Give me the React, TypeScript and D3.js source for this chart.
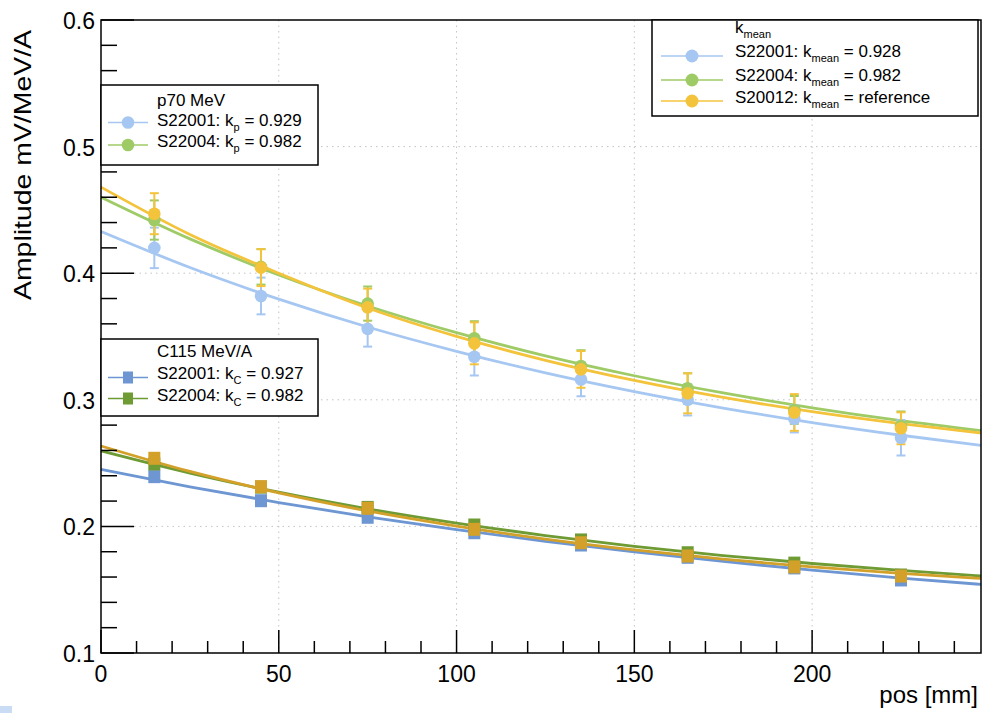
import React from 'react';
import * as d3 from 'd3';

// ---------- data ----------
const positions = [15, 45, 75, 105, 135, 165, 195, 225];

const pS22001 = [0.420, 0.382, 0.356, 0.334, 0.316, 0.300, 0.285, 0.270];
const pS22001Err = [0.016, 0.0145, 0.014, 0.0148, 0.0132, 0.0124, 0.0108, 0.014];
const pS22004 = [0.442, 0.405, 0.376, 0.3486, 0.3267, 0.309, 0.292, 0.2793];
const pS22004Err = [0.0155, 0.014, 0.0135, 0.0135, 0.0125, 0.012, 0.011, 0.0115];
const pS20012 = [0.447, 0.4044, 0.373, 0.3446, 0.324, 0.3051, 0.290, 0.2775];
const pS20012Err = [0.0162, 0.0146, 0.0148, 0.0166, 0.0145, 0.0158, 0.0145, 0.0126];

const cS22001 = [0.2393, 0.2203, 0.2072, 0.195, 0.1853, 0.1756, 0.1672, 0.1577];
const cS22004 = [0.2493, 0.231, 0.215, 0.2011, 0.1893, 0.1792, 0.171, 0.1616];
const cS20012 = [0.2538, 0.2314, 0.2143, 0.1977, 0.1871, 0.1766, 0.168, 0.1608];

const fitPositions = [0, 25, 50, 75, 100, 125, 150, 175, 200, 225, 247.5];
const fitP_S22001 = [0.433, 0.4045, 0.3795, 0.3575, 0.3383, 0.3213, 0.3065, 0.2935, 0.282, 0.272, 0.264];
const fitP_S22004 = [0.460, 0.4271, 0.3986, 0.3741, 0.353, 0.3347, 0.319, 0.3054, 0.2937, 0.2835, 0.2756];
const fitP_S20012 = [0.468, 0.4306, 0.400, 0.3725, 0.3501, 0.3312, 0.3153, 0.3019, 0.2906, 0.2811, 0.2738];
const fitC_S22001 = [0.245, 0.2313, 0.2188, 0.2076, 0.1974, 0.1882, 0.1798, 0.1723, 0.1654, 0.1592, 0.1542];
const fitC_S22004 = [0.2596, 0.2421, 0.227, 0.2139, 0.2026, 0.1928, 0.1843, 0.177, 0.1707, 0.1652, 0.1609];
const fitC_S20012 = [0.2635, 0.2434, 0.2265, 0.2122, 0.2002, 0.19, 0.1814, 0.1741, 0.168, 0.1629, 0.1589];

const xTickValues = [0, 50, 100, 150, 200];
const yTickValues = [0.1, 0.2, 0.3, 0.4, 0.5, 0.6];

// ---------- styles ----------
const W = 984, H = 713;
const L = 101, R = 981, T = 20, B = 653;
const FONT = '"Liberation Sans", Arial, Helvetica, sans-serif';

const COL = {
  p01: '#a6c7f2',
  p04: '#9fcb66',
  p12: '#f4c33c',
  c01: '#6d96d2',
  c04: '#6e9b34',
  c12: '#d3a12a',
};

export default function App() {
  const x = d3.scaleLinear().domain([0, 247.5]).range([L, R]);
  const y = d3.scaleLinear().domain([0.1, 0.6]).range([B, T]);

  const line = d3
    .line<number>()
    .x((_, i) => x(fitPositions[i]))
    .y((d) => y(d))
    .curve(d3.curveMonotoneX);

  const xMinor = d3.range(0, 247.5, 10);
  const yMinor = d3.range(0.1, 0.6001, 0.02);

  const errSeries = (vals: number[], errs: number[], color: string, key: string) => (
    <g key={key}>
      {vals.map((v, i) => {
        const cx = x(positions[i]);
        const y1 = y(v + errs[i]);
        const y2 = y(v - errs[i]);
        return (
          <g key={i} stroke={color} strokeWidth={2}>
            <line x1={cx} x2={cx} y1={y1} y2={y2} />
            <line x1={cx - 4.5} x2={cx + 4.5} y1={y1} y2={y1} />
            <line x1={cx - 4.5} x2={cx + 4.5} y1={y2} y2={y2} />
          </g>
        );
      })}
    </g>
  );

  const circles = (vals: number[], color: string, key: string) => (
    <g key={key} fill={color}>
      {vals.map((v, i) => (
        <circle key={i} cx={x(positions[i])} cy={y(v)} r={6.3} />
      ))}
    </g>
  );

  const squares = (vals: number[], color: string, key: string) => (
    <g key={key} fill={color}>
      {vals.map((v, i) => (
        <rect key={i} x={x(positions[i]) - 6} y={y(v) - 6.5} width={12} height={13} />
      ))}
    </g>
  );

  const fit = (vals: number[], color: string, key: string, w = 2.8) => (
    <path key={key} d={line(vals) || ''} fill="none" stroke={color} strokeWidth={w} />
  );

  const legendCircle = (lx: number, ly: number, color: string) => (
    <g>
      <line x1={lx - 20} x2={lx + 20} y1={ly} y2={ly} stroke={color} strokeWidth={1.5} />
      <circle cx={lx} cy={ly} r={6.3} fill={color} />
    </g>
  );
  const legendCircleWide = (lx: number, ly: number, color: string) => (
    <g>
      <line x1={lx - 31} x2={lx + 31} y1={ly} y2={ly} stroke={color} strokeWidth={1.5} />
      <circle cx={lx} cy={ly} r={6.5} fill={color} />
    </g>
  );
  const legendSquare = (lx: number, ly: number, color: string) => (
    <g>
      <line x1={lx - 20} x2={lx + 20} y1={ly} y2={ly} stroke={color} strokeWidth={1.5} />
      <rect x={lx - 5} y={ly - 6} width={10} height={12} fill={color} />
    </g>
  );

  const sub = (s: string) => (
    <tspan fontSize={11} dy={5}>{s}</tspan>
  );

  return (
    <svg
      width={W}
      height={H}
      style={{ position: 'absolute', left: 0, top: 0, background: '#fff' }}
      fontFamily={FONT}
    >
      <rect x={0} y={0} width={W} height={H} fill="#fff" />

      {/* grid */}
      <g stroke="#c4c4c4" strokeWidth={1} strokeDasharray="1.5,4">
        {xTickValues.filter((v) => v > 0).map((v) => (
          <line key={'gx' + v} x1={x(v)} x2={x(v)} y1={T} y2={B} />
        ))}
        {yTickValues.filter((v) => v > 0.1 && v < 0.6).map((v) => (
          <line key={'gy' + v} x1={L} x2={R} y1={y(v)} y2={y(v)} />
        ))}
      </g>

      {/* fits & points: C115 */}
      {fit(fitC_S22001, COL.c01, 'fc01')}
      {fit(fitC_S22004, COL.c04, 'fc04')}
      {fit(fitC_S20012, COL.c12, 'fc12')}
      {squares(cS22001, COL.c01, 'sc01')}
      {squares(cS22004, COL.c04, 'sc04')}
      {squares(cS20012, COL.c12, 'sc12')}

      {/* fits & points: p70 */}
      {fit(fitP_S22001, COL.p01, 'fp01')}
      {fit(fitP_S22004, COL.p04, 'fp04')}
      {fit(fitP_S20012, COL.p12, 'fp12')}
      {errSeries(pS22001, pS22001Err, COL.p01, 'ep01')}
      {errSeries(pS22004, pS22004Err, COL.p04, 'ep04')}
      {errSeries(pS20012, pS20012Err, COL.p12, 'ep12')}
      {circles(pS22001, COL.p01, 'cp01')}
      {circles(pS22004, COL.p04, 'cp04')}
      {circles(pS20012, COL.p12, 'cp12')}

      {/* frame */}
      <rect x={L} y={T} width={R - L} height={B - T} fill="none" stroke="#000" strokeWidth={1.5} />

      {/* ticks */}
      <g stroke="#000" strokeWidth={1.5}>
        {xMinor.map((v) => {
          const major = Math.abs(v % 50) < 1e-6;
          return <line key={'xt' + v} x1={x(v)} x2={x(v)} y1={B} y2={B - (major ? 23 : 12)} />;
        })}
        {yMinor.map((v) => {
          const major = Math.abs((v * 100) % 10) < 1e-6 || Math.abs((v * 100) % 10 - 10) < 1e-6;
          return <line key={'yt' + v.toFixed(2)} x1={L} x2={L + (major ? 33 : 16)} y1={y(v)} y2={y(v)} />;
        })}
      </g>

      {/* tick labels */}
      <g fontSize={23} fill="#000">
        {xTickValues.map((v) => (
          <text key={'xl' + v} x={x(v)} y={682} textAnchor="middle">{v}</text>
        ))}
        {yTickValues.map((v) => (
          <text key={'yl' + v} x={95} y={y(v) + 9} textAnchor="end">{v.toFixed(1)}</text>
        ))}
      </g>

      {/* axis titles */}
      <text x={978} y={703} textAnchor="end" fontSize={24}>pos [mm]</text>
      <text
        transform="translate(31,300) rotate(-90)"
        textAnchor="start"
        fontSize={24}
        textLength={270}
        lengthAdjust="spacingAndGlyphs"
      >
        Amplitude mV/MeV/A
      </text>

      {/* legend: k_mean */}
      <rect x={652} y={20} width={326} height={96} fill="#fff" stroke="#000" strokeWidth={1.5} />
      <g fontSize={17}>
        <text x={735} y={33}>k{sub('mean')}</text>
        {legendCircleWide(692, 56, COL.p01)}
        <text x={735} y={57}>S22001: k{sub('mean')}<tspan dy={-5}> = 0.928</tspan></text>
        {legendCircleWide(692, 80, COL.p04)}
        <text x={735} y={81}>S22004: k{sub('mean')}<tspan dy={-5}> = 0.982</tspan></text>
        {legendCircleWide(692, 101, COL.p12)}
        <text x={735} y={103}>S20012: k{sub('mean')}<tspan dy={-5}> = reference</tspan></text>
      </g>

      {/* legend: p70 */}
      <rect x={101} y={85} width={217} height={80} fill="#fff" stroke="#000" strokeWidth={1.5} />
      <g fontSize={17}>
        <text x={157} y={106}>p70 MeV</text>
        {legendCircle(128, 122.5, COL.p01)}
        <text x={157} y={126}>S22001: k{sub('p')}<tspan dy={-5}> = 0.929</tspan></text>
        {legendCircle(128, 145, COL.p04)}
        <text x={157} y={147}>S22004: k{sub('p')}<tspan dy={-5}> = 0.982</tspan></text>
      </g>

      {/* legend: C115 */}
      <rect x={101} y={339} width={217} height={77} fill="#fff" stroke="#000" strokeWidth={1.5} />
      <g fontSize={17}>
        <text x={157} y={357}>C115 MeV/A</text>
        {legendSquare(128, 377.5, COL.c01)}
        <text x={157} y={379}>S22001: k{sub('C')}<tspan dy={-5}> = 0.927</tspan></text>
        {legendSquare(128, 398.5, COL.c04)}
        <text x={157} y={401}>S22004: k{sub('C')}<tspan dy={-5}> = 0.982</tspan></text>
      </g>

      {/* small artifact at bottom-left */}
      <rect x={0} y={706} width={12} height={7} fill="#c9dcf3" />
    </svg>
  );
}
